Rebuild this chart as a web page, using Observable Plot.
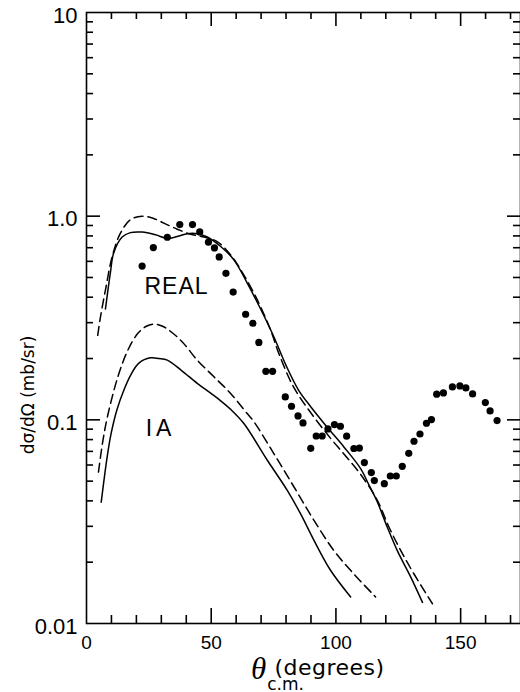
<!DOCTYPE html>
<html><head><meta charset="utf-8">
<script src="https://cdn.jsdelivr.net/npm/d3@7"></script>
<script src="https://cdn.jsdelivr.net/npm/@observablehq/plot@0.6"></script>
<style>body{margin:0;background:#fff;overflow:hidden}svg{display:block}</style>
</head><body><div id="chart"></div>
<script>
// measured cross sections (dots): [theta c.m. (deg), dσ/dΩ (mb/sr)]
const measured = [
  [22.3,0.569],[26.8,0.701],[32.4,0.788],[37.4,0.909],[42.5,0.909],[45.4,0.837],
  [48.9,0.745],[51.3,0.698],[53.2,0.631],[55.9,0.524],[58.8,0.424],[63.8,0.330],
  [66.7,0.298],[69.1,0.240],[71.9,0.173],[74.6,0.173],[79.7,0.1296],[82.2,0.1166],
  [84.8,0.1045],[86.8,0.0966],[89.9,0.0725],[92.1,0.0833],[94.5,0.0833],[96.8,0.0902],
  [99.4,0.0948],[101.8,0.0930],[104.3,0.0831],[107.2,0.0723],[109.4,0.0727],[111.4,0.0617],
  [114.2,0.0551],[115.4,0.0503],[119.4,0.0486],[121.8,0.0530],[124.2,0.0530],[126.6,0.0591],
  [129.2,0.0685],[131.3,0.0785],[133.7,0.0852],[136.3,0.0962],[138.3,0.1003],[140.4,0.1336],
  [143.1,0.1356],[146.7,0.1451],[149.7,0.1468],[152.1,0.1435],[154.8,0.1341],[159.9,0.1216],
  [161.8,0.1106],[164.6,0.0992]
];
// REAL calculation, solid
const realSolid = [
  [7.6,0.35],[9.6,0.53],[10.9,0.66],[14.3,0.79],[17.6,0.83],[22.3,0.835],[27.7,0.81],
  [32.4,0.778],[36.4,0.795],[40.4,0.82],[44.4,0.82],[48.4,0.79],[53.8,0.71],[59.1,0.61],
  [64.5,0.468],[69.8,0.35],[75.1,0.256],[80,0.185],[85,0.14],[89.9,0.116],[96.5,0.092],
  [103.2,0.0736],[109.9,0.0576],[113.2,0.048],[116.6,0.0395],[120.6,0.0297],[124.6,0.0228],
  [130,0.0169],[134.7,0.0127]
];
// REAL calculation, dashed
const realDashed = [
  [4.5,0.26],[5.6,0.32],[7.6,0.434],[10.3,0.633],[13.6,0.825],[17.6,0.96],[22.3,1.0],
  [26.4,0.98],[31,0.924],[36.4,0.863],[41.7,0.815],[47.1,0.79],[52.4,0.75],[57.8,0.645],
  [63.1,0.514],[68.5,0.388],[73.8,0.276],[77.1,0.212],[83,0.145],[90,0.108],[97.9,0.081],
  [103.2,0.068],[109.9,0.054],[116.6,0.0402],[121.3,0.0297],[126,0.0228],[131.3,0.0175],
  [138.7,0.0125]
];
// IA calculation, solid
const iaSolid = [
  [5.9,0.0394],[8.3,0.066],[9.9,0.086],[12.3,0.113],[15.2,0.142],[17.6,0.165],[21,0.19],
  [25.7,0.2015],[29,0.2],[32.4,0.1964],[38,0.175],[44.4,0.151],[48.4,0.139],[53.8,0.124],
  [58,0.112],[63.1,0.0959],[72.5,0.0633],[80.5,0.045],[85.8,0.0346],[91.2,0.0256],
  [97.9,0.0182],[105.9,0.0135]
];
// IA calculation, dashed
const iaDashed = [
  [4.8,0.0554],[6.5,0.078],[8.5,0.105],[12.6,0.163],[16.6,0.22],[20.6,0.266],[24,0.288],
  [27.3,0.295],[30.5,0.288],[34,0.27],[38.6,0.24],[44.4,0.1964],[51.1,0.1626],[57.8,0.1347],
  [64.5,0.107],[67.1,0.098],[75.1,0.0683],[83.2,0.0468],[91.2,0.0321],[99.2,0.0228],
  [107.2,0.0175],[115.9,0.0135]
];
// curve annotations
const annoText = ["REAL","IA"];
const annoTheta = [36.1, 29.7];
const annoValue = [0.449, 0.091];

// axes
const xDomain = [0, 174];
const yDomain = [0.01, 10];
const xMajorTicks = [50, 100, 150];
const xMinorTicks = [10,20,30,40,60,70,80,90,110,120,130,140,160,170];
const xTickLabels = [0, 50, 100, 150];
const yMajorTicks = [0.1, 1];
const yMinorTicks = [0.01,0.1,1].flatMap(d => [2,3,4,5,6,7,8,9].map(k => +(d*k).toPrecision(2)));
const yTickValues = [0.01, 0.1, 1, 10];
const yTickText = ["0.01", "0.1", "1.0", "10"];

const W = 520, H = 692, ML = 86, MR = 0, MT = 12, MB = 69;
const FW = W - ML - MR, FH = H - MT - MB;
const S = {stroke: "black", strokeWidth: 1.6};

const line = (data, dashed) => Plot.line(data, {
  x: d => d[0], y: d => d[1], curve: "catmull-rom", stroke: "black",
  strokeWidth: 1.5, strokeDasharray: dashed ? "9,5" : null
});

const chart = Plot.plot({
  width: W, height: H,
  marginLeft: ML, marginRight: MR, marginTop: MT, marginBottom: MB,
  x: {domain: xDomain, axis: null},
  y: {type: "log", domain: yDomain, axis: null},
  style: {fontFamily: "Liberation Sans", color: "black", background: "white"},
  marks: [
    Plot.frame(S),
    // bottom ticks (pointing up)
    Plot.tickX(xMinorTicks, {...S, x: d => d, insetTop: FH - 8}),
    Plot.tickX(xMajorTicks, {...S, x: d => d, insetTop: FH - 15}),
    // top ticks (pointing down)
    Plot.tickX(xMinorTicks, {...S, x: d => d, insetBottom: FH - 7}),
    Plot.tickX(xMajorTicks, {...S, x: d => d, insetBottom: FH - 14}),
    // left ticks (pointing right)
    Plot.tickY(yMinorTicks, {...S, y: d => d, insetRight: FW - 7}),
    Plot.tickY(yMajorTicks, {...S, y: d => d, insetRight: FW - 14}),
    // right ticks (pointing left)
    Plot.tickY(yMinorTicks, {...S, y: d => d, insetLeft: FW - 7}),
    Plot.tickY(yMajorTicks, {...S, y: d => d, insetLeft: FW - 13}),
    // tick labels
    Plot.text(xTickLabels, {x: d => d, frameAnchor: "bottom", dy: 25, text: d => String(d), fontSize: 19, fill: "black"}),
    Plot.text(yTickValues, {y: d => d, frameAnchor: "left", dx: -9, dy: 3, textAnchor: "end", text: (d, i) => yTickText[i], fontSize: 22, fill: "black"}),
    // axis titles
    Plot.text(["θ"], {frameAnchor: "bottom", dx: -45, dy: 55, fontSize: 31, fontStyle: "italic", fontFamily: "Liberation Serif", fill: "black"}),
    Plot.text(["(degrees)"], {frameAnchor: "bottom", dx: 26, dy: 51, fontSize: 22, fontFamily: "DejaVu Sans", fill: "black"}),
    Plot.text(["c.m."], {frameAnchor: "bottom", dx: -18, dy: 66, fontSize: 17, fontFamily: "DejaVu Sans", fill: "black"}),
    Plot.text(["dσ/dΩ (mb/sr)"], {frameAnchor: "left", textAnchor: "middle", rotate: -90, dx: -58, dy: 77, fontSize: 17, fontFamily: "DejaVu Sans", fill: "black"}),
    // curves
    line(realSolid, false),
    line(realDashed, true),
    line(iaSolid, false),
    line(iaDashed, true),
    // data points
    Plot.dot(measured, {x: d => d[0], y: d => d[1], r: 3.6, fill: "black", stroke: null}),
    // annotations
    Plot.text(annoText, {x: (d, i) => annoTheta[i], y: (d, i) => annoValue[i], text: d => d, fontSize: 23, fill: "black"})
  ]
});
chart.querySelectorAll("text").forEach(t => {
  if (t.textContent === "REAL") t.setAttribute("letter-spacing", "1");
  if (t.textContent === "IA") t.setAttribute("letter-spacing", "4");
  if (t.textContent === "(degrees)") t.setAttribute("letter-spacing", "0.5");
});
document.getElementById("chart").append(chart);
</script></body></html>
